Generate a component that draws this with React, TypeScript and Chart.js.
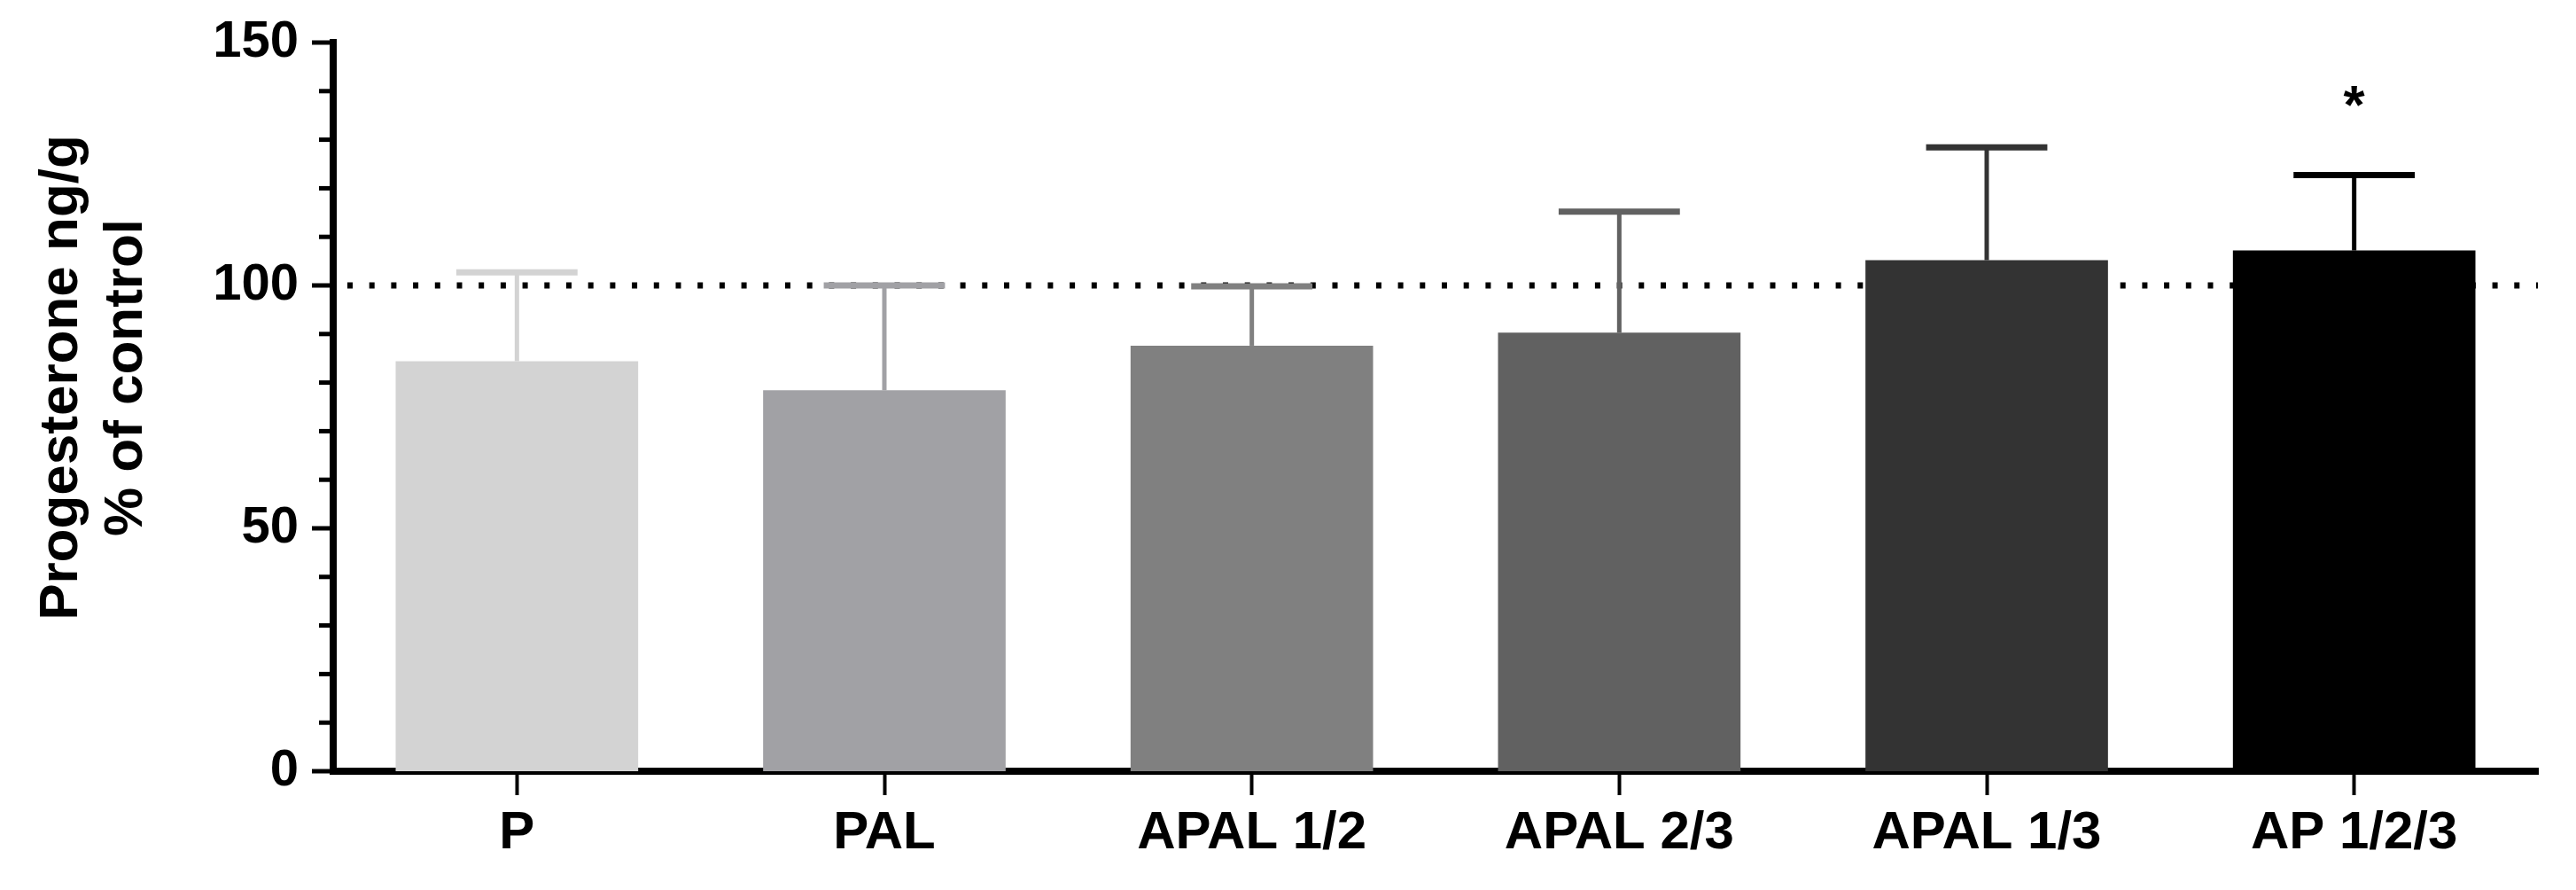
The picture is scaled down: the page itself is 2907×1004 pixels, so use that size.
import React, { useEffect, useRef } from 'react';
import { Chart, registerables } from 'chart.js';

Chart.register(...registerables);

const categories = ['P', 'PAL', 'APAL 1/2', 'APAL 2/3', 'APAL 1/3', 'AP 1/2/3'];
const means = [84.4, 78.4, 87.6, 90.3, 105.2, 107.2];
const errorTops = [102.7, 100.0, 99.8, 115.2, 128.4, 122.7];
const significance = ['', '', '', '', '', '*'];
const barColors = ['#d3d3d3', '#a1a1a5', '#808080', '#616161', '#333333', '#000000'];
const yTickLabels = [0, 50, 100, 150];
const referenceLevel = 100;
const yTitle = ['Progesterone ng/g', '% of control'];

const FONT = '"Liberation Sans", Arial, Helvetica, sans-serif';

const decorPlugin = {
  id: 'decor',
  beforeDatasetsDraw(chart: any) {
    const { ctx, chartArea, scales } = chart;
    const y = scales.y.getPixelForValue(referenceLevel);
    ctx.save();
    ctx.strokeStyle = '#000';
    ctx.lineWidth = 7;
    ctx.setLineDash([6, 18.7]);
    ctx.beginPath();
    ctx.moveTo(chartArea.left + 16, y);
    ctx.lineTo(chartArea.right, y);
    ctx.stroke();
    ctx.restore();
  },
  afterDatasetsDraw(chart: any) {
    const { ctx, scales } = chart;
    const meta = chart.getDatasetMeta(0);
    ctx.save();
    meta.data.forEach((el: any, i: number) => {
      const x = el.x;
      const yTop = el.y;
      const yCap = scales.y.getPixelForValue(errorTops[i]);
      const capW = el.width * 0.5;
      ctx.strokeStyle = barColors[i];
      ctx.lineWidth = 5;
      ctx.beginPath();
      ctx.moveTo(x, yTop);
      ctx.lineTo(x, yCap);
      ctx.stroke();
      ctx.lineWidth = 7;
      ctx.beginPath();
      ctx.moveTo(x - capW / 2, yCap);
      ctx.lineTo(x + capW / 2, yCap);
      ctx.stroke();
      if (significance[i]) {
        ctx.fillStyle = '#000';
        ctx.font = `bold 62px ${FONT}`;
        ctx.textAlign = 'center';
        ctx.textBaseline = 'middle';
        ctx.fillText(significance[i], x, yCap - 76);
      }
    });
    ctx.restore();
  },
  afterDraw(chart: any) {
    const { ctx, scales } = chart;
    const ys = scales.y;
    const axisX = ys.right;
    ctx.save();
    ctx.strokeStyle = '#000';
    ctx.lineWidth = 5;
    ys.ticks.forEach((t: any) => {
      const py = ys.getPixelForValue(t.value);
      const len = t.value % 50 === 0 ? 24 : 16;
      ctx.beginPath();
      ctx.moveTo(axisX - len, py);
      ctx.lineTo(axisX, py);
      ctx.stroke();
    });
    // y-axis title
    ctx.fillStyle = '#000';
    ctx.font = `bold 62px ${FONT}`;
    ctx.textAlign = 'center';
    ctx.textBaseline = 'alphabetic';
    const cy = 426;
    const baselines = [87, 160];
    yTitle.forEach((line, i) => {
      ctx.save();
      ctx.translate(baselines[i], cy);
      ctx.rotate(-Math.PI / 2);
      ctx.fillText(line, 0, 0);
      ctx.restore();
    });
    ctx.restore();
  },
};

export default function App() {
  const canvasRef = useRef<HTMLCanvasElement | null>(null);

  useEffect(() => {
    const canvas = canvasRef.current;
    if (!canvas) return;
    const chart = new Chart(canvas, {
      type: 'bar',
      data: {
        labels: categories,
        datasets: [
          {
            data: means,
            backgroundColor: barColors,
            borderWidth: 0,
            barPercentage: 0.66,
            categoryPercentage: 1,
          },
        ],
      },
      options: {
        responsive: false,
        animation: false,
        layout: { padding: { left: 0, top: 48, right: 43, bottom: 0 } },
        plugins: {
          legend: { display: false },
          tooltip: { enabled: false },
          title: { display: false },
        },
        scales: {
          x: {
            type: 'category',
            offset: true,
            afterFit: (scale: any) => {
              scale.height = 134;
            },
            grid: {
              display: true,
              drawOnChartArea: false,
              drawTicks: true,
              offset: false,
              tickLength: 27,
              tickWidth: 4,
              tickColor: '#000',
              color: '#000',
            },
            border: { display: true, width: 8, color: '#000' },
            ticks: {
              color: '#000',
              padding: 7,
              autoSkip: false,
              maxRotation: 0,
              font: { family: FONT, size: 60, weight: 'bold' },
            },
          },
          y: {
            min: 0,
            max: 150,
            afterFit: (scale: any) => {
              scale.width = 376;
            },
            grid: { display: false, drawTicks: true, tickLength: 39 },
            border: { display: true, width: 8, color: '#000' },
            ticks: {
              stepSize: 10,
              autoSkip: false,
              color: '#000',
              padding: 0,
              font: { family: FONT, size: 58, weight: 'bold' },
              callback: (v: any) => (yTickLabels.includes(Number(v)) ? String(v) : ''),
            },
          },
        },
      },
      plugins: [decorPlugin],
    });
    return () => chart.destroy();
  }, []);

  return (
    <div style={{ position: 'fixed', left: 0, top: 0, width: 2907, height: 1004, background: '#fff' }}>
      <canvas ref={canvasRef} width={2907} height={1004} style={{ display: 'block' }} />
    </div>
  );
}
